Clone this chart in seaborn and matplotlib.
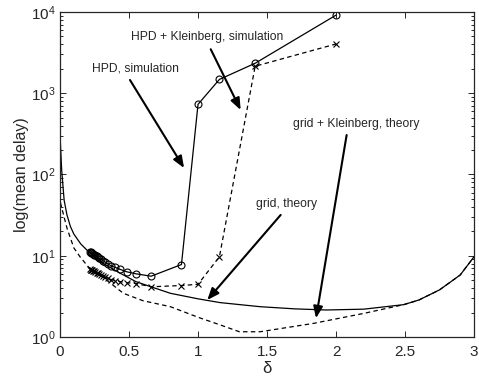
import matplotlib
matplotlib.use("Agg")
import matplotlib.pyplot as plt
import seaborn as sns
import numpy as np

# ---- data ----
theory_grid_x = [0.003, 0.012, 0.03, 0.05, 0.075, 0.1, 0.15, 0.2, 0.3, 0.435, 0.55, 0.65,
                 0.8, 1.0, 1.16, 1.45, 1.7, 1.93, 2.2, 2.49, 2.6, 2.75, 2.9, 3.0]
theory_grid_y = [240, 113, 48, 32, 23, 18.5, 14, 11.5, 8.3, 6.1, 4.8, 4.2,
                 3.45, 2.95, 2.65, 2.36, 2.22, 2.15, 2.2, 2.5, 2.85, 3.8, 5.8, 9.7]

theory_kl_x = [0.003, 0.05, 0.1, 0.145, 0.205, 0.3, 0.338, 0.459, 0.6, 0.8, 1.0, 1.16,
               1.3, 1.45, 1.836, 2.2, 2.49, 2.6, 2.75, 2.9, 3.0]
theory_kl_y = [45, 22, 12.5, 9.7, 7.3, 5.6, 5.0, 3.45, 2.8, 2.36, 1.75, 1.41,
               1.16, 1.16, 1.47, 1.95, 2.5, 2.85, 3.8, 5.8, 9.7]

sim_x = [0.217, 0.222, 0.228, 0.234, 0.241, 0.248, 0.256, 0.265, 0.275, 0.286, 0.298,
         0.312, 0.329, 0.348, 0.371, 0.4, 0.435, 0.483, 0.55, 0.66, 0.88, 1.0, 1.155,
         1.414, 2.0]
hpd_y = [11.2, 11.0, 10.9, 10.7, 10.5, 10.3, 10.1, 9.85, 9.6, 9.3, 9.0,
         8.7, 8.3, 7.9, 7.5, 7.2, 6.8, 6.35, 6.0, 5.6, 7.8, 730, 1480,
         2340, 9150]
hpdk_y = [6.8, 6.7, 6.6, 6.6, 6.5, 6.4, 6.3, 6.2, 6.1, 5.9, 5.8,
          5.6, 5.4, 5.3, 5.1, 4.95, 4.8, 4.66, 4.55, 4.15, 4.3, 4.45, 9.7,
          2150, 4040]

x_ticks = [0, 0.5, 1, 1.5, 2, 2.5, 3]
x_tick_labels = ["0", "0.5", "1", "1.5", "2", "2.5", "3"]

sns.set_style("ticks")
plt.rcParams["font.family"] = ["Liberation Sans", "DejaVu Sans"]
plt.rcParams["mathtext.default"] = "regular"
plt.rcParams["lines.scale_dashes"] = False

fig = plt.figure(figsize=(4.79, 3.81), dpi=100)
ax = fig.add_axes([0.1253, 0.1155, 0.8643, 0.853])

sns.lineplot(x=theory_grid_x, y=theory_grid_y, ax=ax, color="k", lw=0.9, sort=False)
sns.lineplot(x=theory_kl_x, y=theory_kl_y, ax=ax, color="k", lw=0.9, sort=False,
             linestyle=(0, (3.2, 2.4)))
sns.lineplot(x=sim_x, y=hpd_y, ax=ax, color="k", lw=0.9, sort=False,
             marker="o", markersize=5, markerfacecolor="none", markeredgecolor="k",
             markeredgewidth=0.8)
sns.lineplot(x=sim_x, y=hpdk_y, ax=ax, color="k", lw=0.9, sort=False,
             linestyle=(0, (3.2, 2.4)), marker="x", markersize=3.8,
             markeredgecolor="k", markeredgewidth=0.8)

ax.set_yscale("log")
ax.set_xlim(0, 3)
ax.set_ylim(1, 1e4)
ax.set_xticks(x_ticks)
ax.set_xticklabels(x_tick_labels)
ax.tick_params(which="both", direction="in", top=True, right=True, labelsize=11,
               width=0.7)
ax.tick_params(which="major", length=4)
ax.tick_params(which="minor", length=2)
ax.tick_params(axis="x", pad=5.5)
for s in ax.spines.values():
    s.set_linewidth(0.9)

ax.set_xlabel("δ", fontsize=12, labelpad=2)
ax.set_ylabel("log(mean delay)", fontsize=11.5, labelpad=1)

arrow = dict(arrowstyle="-|>,head_length=0.7,head_width=0.28", color="k", lw=1.5,
             shrinkA=0, shrinkB=0)
fs = 8.7
ax.annotate("", xy=(0.899, 120), xytext=(0.507, 1456), arrowprops=arrow)
ax.text(0.55, 2000, "HPD, simulation", fontsize=fs, ha="center", va="center")
ax.annotate("", xy=(1.309, 622), xytext=(1.092, 3480), arrowprops=arrow)
ax.text(1.065, 4900, "HPD + Kleinberg, simulation", fontsize=fs, ha="center", va="center")
ax.annotate("", xy=(1.067, 2.85), xytext=(1.599, 31.8), arrowprops=arrow)
ax.text(1.638, 43, "grid, theory", fontsize=fs, ha="center", va="center")
ax.annotate("", xy=(1.855, 1.7), xytext=(2.077, 306), arrowprops=arrow)
ax.text(2.145, 418, "grid + Kleinberg, theory", fontsize=fs, ha="center", va="center")

fig.savefig("out.png", dpi=100)
